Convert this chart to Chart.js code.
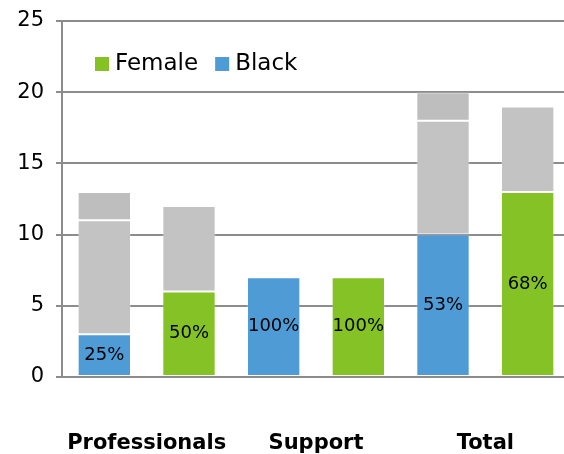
<!DOCTYPE html>
<html>
<head>
<meta charset="utf-8">
<script src="https://cdn.jsdelivr.net/npm/chart.js@4.4.1/dist/chart.umd.min.js"></script>
<style>
  html, body { margin: 0; padding: 0; background: #fff; overflow: hidden; width: 564px; height: 454px; }
  canvas { display: block; }
</style>
</head>
<body>
<canvas id="staffChart" width="570" height="454" style="width:570px;height:454px"></canvas>
<script>
// Staff counts per group: coloured part = Black / Female, grey = the rest
const groups = ['Professionals', 'Support', 'Total'];
const blackCount = [3, 7, 10];
const blackRestA = [8, null, 8];
const blackRestB = [2, null, 2];
const femaleCount = [6, 7, 13];
const femaleRest = [6, null, 6];
const blackShare = ['25%', '100%', '53%'];
const femaleShare = ['50%', '100%', '68%'];
const yTicks = [0, 5, 10, 15, 20, 25];
const legendNames = ['Female', 'Black'];

const blue = '#4f9bd5';
const green = '#84c226';
const grey = '#c3c3c3';
const greyTop = '#bebebe';
const gridColor = '#8c8c8c';
const font = 'DejaVu Sans';

const edge = 'rgba(255, 255, 255, 0.25)';

// Percent labels inside the coloured bars
const shareLabels = {
  id: 'shareLabels',
  afterDatasetsDraw(chart) {
    const ctx = chart.ctx;
    const pairs = [[0, blackShare], [3, femaleShare]];
    ctx.save();
    ctx.font = '18px "' + font + '"';
    ctx.fillStyle = '#000';
    ctx.textAlign = 'center';
    ctx.textBaseline = 'middle';
    pairs.forEach(([idx, texts]) => {
      chart.getDatasetMeta(idx).data.forEach((bar, i) => {
        const p = bar.getProps(['x', 'y', 'base'], true);
        ctx.fillText(texts[i], p.x, (p.y + p.base) / 2);
      });
    });
    ctx.restore();
  }
};

// Legend drawn inside the plot, top left
const innerLegend = {
  id: 'innerLegend',
  afterDraw(chart) {
    const ctx = chart.ctx;
    const area = chart.chartArea;
    const colors = [green, blue];
    let x = area.left + 33;
    const y = area.top + 43;
    ctx.save();
    ctx.font = '23px "' + font + '"';
    ctx.textBaseline = 'middle';
    legendNames.forEach((name, i) => {
      ctx.fillStyle = colors[i];
      ctx.fillRect(x, y - 7, 14, 14);
      ctx.fillStyle = '#000';
      ctx.fillText(name, x + 20, y);
      x += 20 + ctx.measureText(name).width + 17;
    });
    ctx.restore();
  }
};

const ctx = document.getElementById('staffChart').getContext('2d');
new Chart(ctx, {
  type: 'bar',
  data: {
    labels: groups,
    datasets: [
      { label: 'Black', data: blackCount, stack: 'black', backgroundColor: blue },
      { label: 'Other A', data: blackRestA, stack: 'black', backgroundColor: grey },
      { label: 'Other B', data: blackRestB, stack: 'black', backgroundColor: greyTop },
      { label: 'Female', data: femaleCount, stack: 'female', backgroundColor: green },
      { label: 'Other', data: femaleRest, stack: 'female', backgroundColor: grey }
    ]
  },
  options: {
    responsive: false,
    animation: false,
    devicePixelRatio: 1,
    layout: { padding: { top: 21, left: 0, right: 0, bottom: 0 } },
    datasets: {
      bar: {
        categoryPercentage: 1.0,
        barPercentage: 0.63,
        borderWidth: 1,
        borderColor: edge,
        borderSkipped: false
      }
    },
    plugins: {
      legend: { display: false },
      tooltip: { enabled: false }
    },
    scales: {
      x: {
        stacked: true,
        grid: { display: false, drawTicks: false },
        border: { display: false },
        ticks: {
          color: '#000',
          padding: 54,
          font: { family: font, size: 21, weight: 'bold' }
        },
        afterFit(scale) { scale.height = 77; }
      },
      y: {
        stacked: true,
        min: 0,
        max: 25,
        afterBuildTicks(scale) { scale.ticks = yTicks.map(v => ({ value: v })); },
        afterFit(scale) {
          scale.width = 62;
          scale.paddingTop = 0;
          scale.paddingBottom = 0;
        },
        grid: { color: gridColor, lineWidth: 2, tickLength: 6 },
        border: { display: true, color: gridColor, width: 2 },
        ticks: {
          color: '#000',
          padding: 12,
          font: { family: font, size: 21, lineHeight: 1.0 }
        }
      }
    }
  },
  plugins: [shareLabels, innerLegend]
});
</script>
</body>
</html>
